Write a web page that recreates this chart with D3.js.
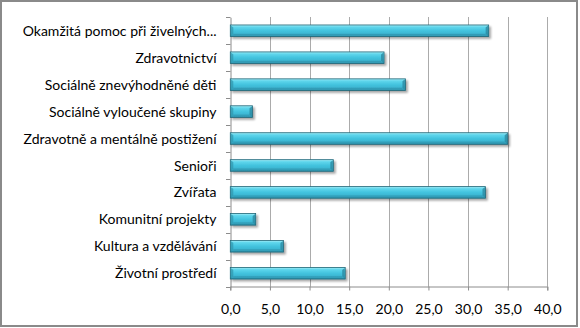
<!DOCTYPE html>
<html><head><meta charset="utf-8">
<script src="https://cdn.jsdelivr.net/npm/d3@7"></script>
<style>html,body{margin:0;padding:0;background:#fff;}svg{display:block;}</style>
</head><body>
<script>
const categories = ["Okamžitá pomoc při živelných...","Zdravotnictví","Sociálně znevýhodněné děti","Sociálně vyloučené skupiny","Zdravotně a mentálně postižení","Senioři","Zvířata","Komunitní projekty","Kultura a vzdělávání","Životní prostředí"];
const values = [32.6,19.4,22.1,2.8,35.0,13.0,32.2,3.2,6.7,14.5];
const tickValues = [0,5,10,15,20,25,30,35,40];

const W=580,H=328;
const svg=d3.select("body").append("svg").attr("width",W).attr("height",H);
const defs=svg.append("defs");
const g1=defs.append("linearGradient").attr("id","bar").attr("x1",0).attr("y1",0).attr("x2",0).attr("y2",1);
[[0,"#a6eef8"],[0.18,"#5fd6ec"],[0.5,"#43c3de"],[0.8,"#3bb3cf"],[1,"#2a8aa3"]].forEach(s=>g1.append("stop").attr("offset",s[0]).attr("stop-color",s[1]));
const f=defs.append("filter").attr("id","sh").attr("x","-10%").attr("y","-50%").attr("width","130%").attr("height","250%");
f.append("feGaussianBlur").attr("in","SourceAlpha").attr("stdDeviation",1.2).attr("result","b");
f.append("feOffset").attr("in","b").attr("dx",1.5).attr("dy",2).attr("result","o");
f.append("feComponentTransfer").attr("in","o").attr("result","o2").append("feFuncA").attr("type","linear").attr("slope",0.35);
const fm=f.append("feMerge");fm.append("feMergeNode").attr("in","o2");fm.append("feMergeNode").attr("in","SourceGraphic");

// border
svg.append("rect").attr("x",1).attr("y",1).attr("width",576).attr("height",325).attr("fill","none").attr("stroke","#8a8a8a").attr("stroke-width",2);

const x=d3.scaleLinear().domain([0,40]).range([230.3,547.3]);
const y=d3.scaleBand().domain(categories).range([17.3,286.7]).paddingInner(0.57).paddingOuter(0.285);
const yb=d3.scaleBand().domain(categories).range([17.3,286.7]);

// gridlines
svg.append("g").selectAll("line").data(tickValues.slice(1)).join("line")
 .attr("x1",d=>Math.round(x(d))+0.5).attr("x2",d=>Math.round(x(d))+0.5).attr("y1",17).attr("y2",286.7)
 .attr("stroke","#ababab").attr("stroke-width",1);

// axes
const xa=svg.append("g").attr("transform","translate(0,286.5)")
 .call(d3.axisBottom(x).tickValues(tickValues).tickSize(4).tickPadding(13).tickFormat(d=>d3.format(".1f")(d).replace(".",",")));
const ya=svg.append("g").attr("transform","translate(230.5,0)")
 .call(d3.axisLeft(yb).tickSize(0).tickPadding(14));
// category ticks at band boundaries
svg.append("g").selectAll("line").data(d3.range(categories.length+1)).join("line")
 .attr("x1",226).attr("x2",230.5).attr("y1",i=>Math.round(17.3+i*yb.step())+0.5).attr("y2",i=>Math.round(17.3+i*yb.step())+0.5)
 .attr("stroke","#8c8c8c");
[xa,ya].forEach(a=>{a.select(".domain").attr("stroke","#8c8c8c");a.selectAll(".tick line").attr("stroke","#8c8c8c");
 a.selectAll("text").attr("font-family","Lato, 'Open Sans', sans-serif").attr("font-size","14px").attr("fill","#000");});
ya.selectAll("text").attr("dy","0.36em");
xa.selectAll("text").attr("dy","0.75em");

// bars
const bars=svg.append("g");
values.forEach((v,i)=>{
 const c=categories[i];
 const y0=y(c), h=y.bandwidth(), x0=x(0), x1=x(v);
 const gg=bars.append("g").attr("filter","url(#sh)");
 gg.append("rect").attr("x",x0).attr("y",y0).attr("width",x1-x0).attr("height",h).attr("fill","url(#bar)").attr("stroke","#1e6577").attr("stroke-width",0.8);
 gg.append("path").attr("d",`M${x1-3},${y0+2.5}L${x1-0.5},${y0+0.5}L${x1-0.5},${y0+h-0.5}L${x1-3},${y0+h-2.5}Z`).attr("fill","#2c8aa1").attr("opacity",0.8);
 gg.append("path").attr("d",`M${x0+0.5},${y0+0.5}L${x0+3},${y0+2.5}L${x0+3},${y0+h-2.5}L${x0+0.5},${y0+h-0.5}Z`).attr("fill","#2f95ad").attr("opacity",0.7);
 gg.append("line").attr("x1",x0+3).attr("x2",x1-3).attr("y1",y0+h-2.2).attr("y2",y0+h-2.2).attr("stroke","#2a8aa3").attr("stroke-width",1).attr("opacity",0.6);
});
</script>
</body></html>
